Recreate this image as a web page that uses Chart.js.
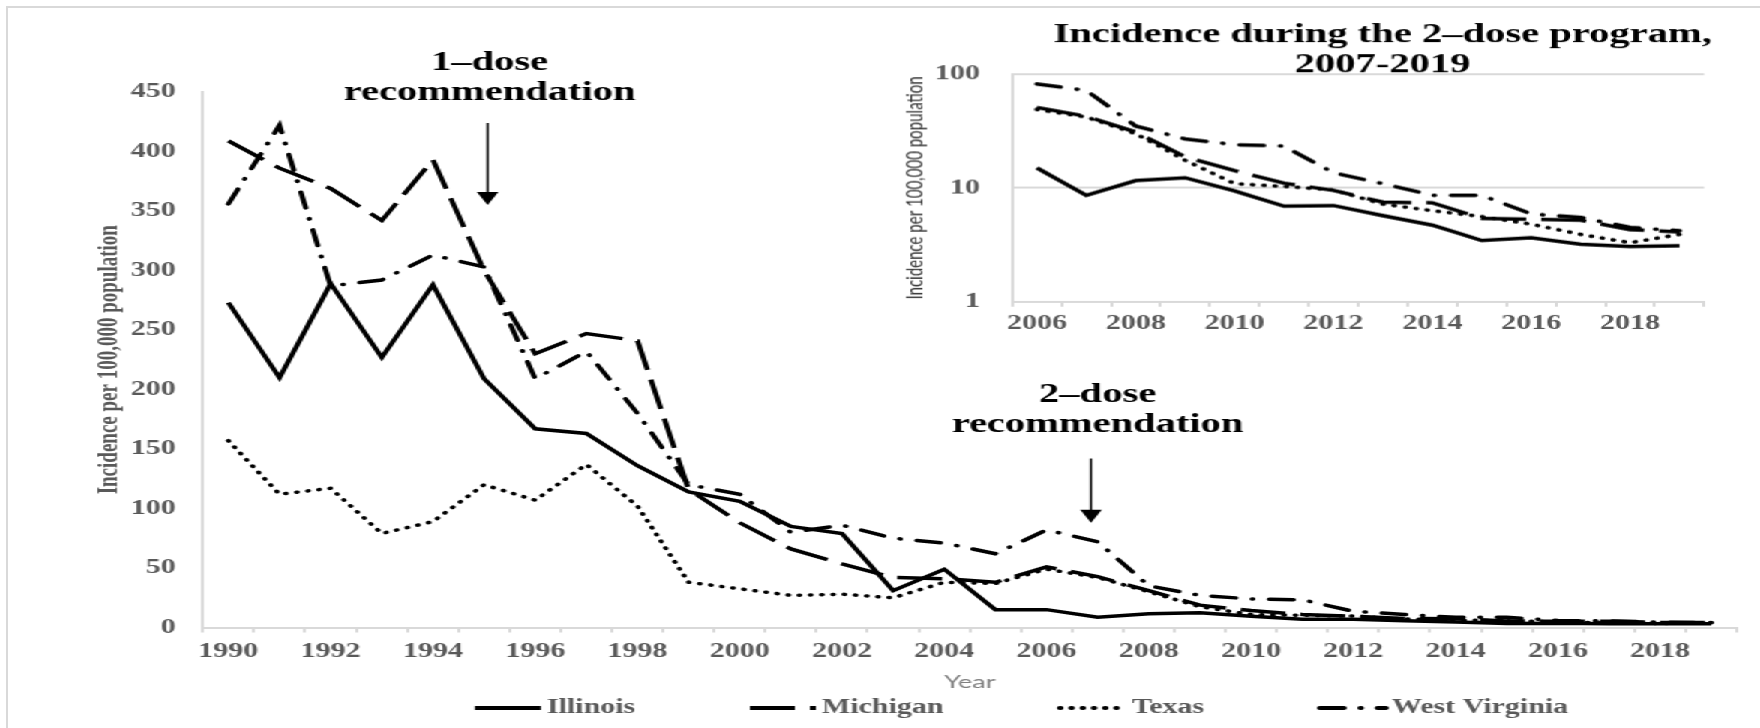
<!DOCTYPE html>
<html>
<head>
<meta charset="utf-8">
<script src="https://cdn.jsdelivr.net/npm/chart.js@4.4.1/dist/chart.umd.min.js"></script>
<style>
  html, body { margin: 0; padding: 0; background: #fff; }
  body { width: 1760px; height: 728px; overflow: hidden; position: relative; }
  #frame { position: absolute; left: 6px; top: 6px; width: 1850px; height: 850px; border: 2px solid #d9d9d9; }
  /* the source figure is stretched 1.5x horizontally, so draw narrow and stretch */
  #stage { position: absolute; left: 0; top: 0; width: 1173.33px; height: 728px; transform: scaleX(1.5); transform-origin: 0 0; }
  #mainBox { position: absolute; left: 0; top: 0; width: 1173.33px; height: 728px; }
  #insetBox { position: absolute; left: 600px; top: 5px; width: 642.67px; height: 335.7px; }
</style>
</head>
<body>
<div id="frame"></div>
<div id="stage">
  <div id="mainBox"><canvas id="mainChart"></canvas></div>
  <div id="insetBox"><canvas id="insetChart"></canvas></div>
</div>
<script>
const years = ["1990", "1991", "1992", "1993", "1994", "1995", "1996", "1997", "1998", "1999",
  "2000", "2001", "2002", "2003", "2004", "2005", "2006", "2007", "2008", "2009",
  "2010", "2011", "2012", "2013", "2014", "2015", "2016", "2017", "2018", "2019"];

const illinois = [273, 210, 289, 227, 288, 209, 167, 163, 136, 114,
  106, 85, 79, 31, 49, 15, 15, 8.6, 11.6, 12.3,
  9.4, 6.9, 7.0, 5.7, 4.7, 3.45, 3.65, 3.2, 3.05, 3.1];
const michigan = [409, 386, 369, 342, 393, 300, 230, 247, 241, 116,
  88, 66, 53.5, 42, 41, 38, 51, 42.7, 31, 18.8,
  14.2, 11, 9.5, 7.5, 7.4, 5.4, 5.3, 5.2, 4.3, 4.1];
const texas = [157, 112, 117, 79, 89, 120, 107, 137, 102, 38,
  32.5, 27, 28, 25, 38, 37, 49, 42, 30, 17.5,
  10.9, 10.3, 9.6, 7.2, 6.3, 5.6, 4.8, 3.9, 3.3, 3.9];
const westVirginia = [356, 422, 287, 292, 313, 303, 209, 232, 180, 120,
  112, 80, 86, 75, 71, 62, 82, 72, 35, 27,
  24, 23.3, 13.6, 10.9, 8.6, 8.6, 5.9, 5.5, 4.5, 4.2];

const insetFrom = "2006";
const mainTicks = [0, 50, 100, 150, 200, 250, 300, 350, 400, 450];
const insetTicks = [1, 10, 100];

const serif = '"Liberation Serif", "Times New Roman", serif';
const grey = "#595959";
const axisGrey = "#d9d9d9";

const series = [
  { label: "Illinois", values: illinois, dash: [], cap: "butt" },
  { label: "Michigan", values: michigan, dash: [30, 10], cap: "butt" },
  { label: "Texas", values: texas, dash: [0.5, 7], cap: "round" },
  { label: "West Virginia", values: westVirginia, dash: [16, 11, 0.5, 11], cap: "round" }
];

function makeDatasets(start) {
  return series.map(s => ({
    label: s.label,
    data: s.values.slice(start),
    borderColor: "#000",
    backgroundColor: "#000",
    borderWidth: 3.5,
    borderDash: s.dash,
    borderCapStyle: s.cap,
    pointRadius: 0,
    tension: 0,
    fill: false
  }));
}

function evenYearsOnly(value) {
  const lab = this.getLabelForValue(value);
  return Number(lab) % 2 === 0 ? lab : "";
}

// arrows + text for the two recommendations (x in category index, y in data units)
const notes = [
  { lines: ["1\u2013dose", "recommendation"], textAt: 5.11, textY: 449, arrowAt: 5.07, from: 424, to: 355 },
  { lines: ["2\u2013dose", "recommendation"], textAt: 17.0, textY: 170, arrowAt: 16.87, from: 142, to: 88 }
];

const annotate = {
  id: "annotate",
  afterDraw(chart) {
    const { ctx } = chart;
    const xs = chart.scales.x, ys = chart.scales.y;
    ctx.save();
    ctx.fillStyle = "#000";
    ctx.strokeStyle = "#000";
    ctx.font = "bold 27px " + serif;
    ctx.textAlign = "center";
    ctx.textBaseline = "middle";
    notes.forEach(n => {
      const tx = xs.getPixelForValue(n.textAt);
      const ty = ys.getPixelForValue(n.textY);
      ctx.fillText(n.lines[0], tx, ty - 30);
      ctx.fillText(n.lines[1], tx, ty);
      const ax = xs.getPixelForValue(n.arrowAt);
      const y0 = ys.getPixelForValue(n.from);
      const y1 = ys.getPixelForValue(n.to);
      ctx.lineWidth = 1.4;
      ctx.beginPath();
      ctx.moveTo(ax, y0);
      ctx.lineTo(ax, y1 - 10);
      ctx.stroke();
      ctx.beginPath();
      ctx.moveTo(ax - 7.2, y1 - 13);
      ctx.lineTo(ax + 7.2, y1 - 13);
      ctx.lineTo(ax, y1);
      ctx.closePath();
      ctx.fill();
    });
    ctx.restore();
  }
};

// legend drawn along the bottom edge
const legendStarts = [316.7, 500, 706.7, 880];
const bottomLegend = {
  id: "bottomLegend",
  afterDraw(chart) {
    const { ctx } = chart;
    const y = 708;
    ctx.save();
    chart.data.datasets.forEach((ds, i) => {
      const x0 = legendStarts[i];
      ctx.save();
      ctx.strokeStyle = "#000";
      ctx.lineWidth = 4;
      ctx.setLineDash(ds.borderDash);
      ctx.lineCap = ds.borderCapStyle;
      ctx.beginPath();
      ctx.moveTo(x0, y);
      ctx.lineTo(x0 + 44, y);
      ctx.stroke();
      ctx.restore();
      ctx.fillStyle = grey;
      ctx.font = "bold 20px " + serif;
      ctx.textAlign = "left";
      ctx.textBaseline = "middle";
      ctx.fillText(ds.label, x0 + 48, y);
    });
    ctx.restore();
  }
};

new Chart(document.getElementById("mainChart"), {
  type: "line",
  data: { labels: years, datasets: makeDatasets(0) },
  options: {
    responsive: true,
    maintainAspectRatio: false,
    animation: false,
    layout: { padding: { top: 92, right: 15.3, left: 0, bottom: 0 } },
    plugins: { legend: { display: false }, tooltip: { enabled: false } },
    scales: {
      x: {
        offset: true,
        grid: { offset: true, drawOnChartArea: false, tickLength: 5, color: axisGrey, lineWidth: 2 },
        border: { display: true, color: axisGrey, width: 2 },
        ticks: {
          autoSkip: false, maxRotation: 0, minRotation: 0, padding: 7,
          color: grey, font: { family: serif, size: 20, weight: "bold" },
          callback: evenYearsOnly
        },
        title: {
          display: true, text: "Year", color: "#808080",
          font: { family: "Lato", size: 18 },
          padding: { top: 0, bottom: 35.2 }
        },
        afterFit(s) { s.height = 100.5; }
      },
      y: {
        min: 0,
        max: 450,
        afterBuildTicks(s) { s.ticks = mainTicks.map(v => ({ value: v })); },
        grid: { drawOnChartArea: false, drawTicks: false },
        border: { display: true, color: axisGrey, width: 2 },
        ticks: { padding: 18, color: grey, font: { family: serif, size: 20, weight: "bold" } },
        title: {
          display: true, text: "Incidence per 100,000 population", color: grey,
          font: { family: serif, size: 19, weight: "bold" },
          padding: { top: 61.3, bottom: 0 }
        },
        afterFit(s) { s.width = 135.3; }
      }
    }
  },
  plugins: [annotate, bottomLegend]
});

const start = years.indexOf(insetFrom);
new Chart(document.getElementById("insetChart"), {
  type: "line",
  data: { labels: years.slice(start), datasets: makeDatasets(start) },
  options: {
    responsive: true,
    maintainAspectRatio: false,
    animation: false,
    layout: { padding: 0 },
    plugins: {
      legend: { display: false },
      tooltip: { enabled: false },
      title: {
        display: true,
        text: ["Incidence during the 2\u2013dose program,", "2007-2019"],
        color: "#000",
        font: { family: serif, size: 27, weight: "bold", lineHeight: "30px" },
        padding: { top: 15, bottom: -6 }
      }
    },
    scales: {
      x: {
        offset: true,
        grid: { offset: true, drawOnChartArea: false, tickLength: 5, color: axisGrey, lineWidth: 2 },
        border: { display: true, color: axisGrey, width: 2 },
        ticks: {
          autoSkip: false, maxRotation: 0, minRotation: 0, padding: 5.3,
          color: grey, font: { family: serif, size: 20, weight: "bold" },
          callback: evenYearsOnly
        },
        afterFit(s) { s.height = 40; }
      },
      y: {
        type: "logarithmic",
        min: 1,
        max: 100,
        afterBuildTicks(s) { s.ticks = insetTicks.map(v => ({ value: v })); },
        grid: { drawTicks: false, color: axisGrey, lineWidth: 2 },
        border: { display: true, color: axisGrey, width: 2 },
        ticks: {
          padding: 21.4, color: grey, font: { family: serif, size: 20, weight: "bold" },
          callback: v => String(v)
        },
        title: {
          display: true, text: "Incidence per 100,000 population", color: "#333",
          font: { family: "Lato", size: 15 },
          padding: { top: 0.7, bottom: 0 }
        },
        afterFit(s) { s.width = 74.7; }
      },
      spacer: {
        position: "right",
        grid: { display: false },
        ticks: { display: false },
        border: { display: false },
        afterFit(s) { s.width = 107.3; }
      }
    }
  }
});
</script>
</body>
</html>
